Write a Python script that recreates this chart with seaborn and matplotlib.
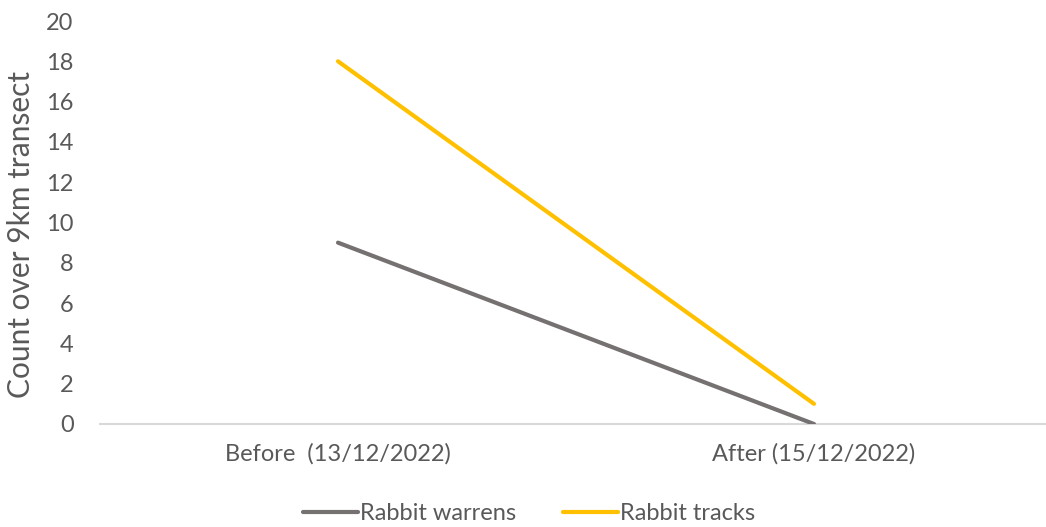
import matplotlib
matplotlib.use("Agg")
import matplotlib.pyplot as plt
import seaborn as sns
import pandas as pd

periods = ["Before  (13/12/2022)", "After (15/12/2022)"]
warrens = [9, 0]
tracks = [18, 1]
series_names = ["Rabbit warrens", "Rabbit tracks"]
palette = ["#767171", "#FFC000"]

sns.set_theme(style="white")
plt.rcParams["font.family"] = ["Lato", "DejaVu Sans"]

df = pd.DataFrame({
    "period": periods * 2,
    "x": list(range(len(periods))) * 2,
    "count": warrens + tracks,
    "series": [series_names[0]] * len(periods) + [series_names[1]] * len(periods),
})

fig = plt.figure(figsize=(10.46, 5.27), dpi=100)
ax = fig.add_axes([100 / 1046, 1 - 424 / 527, 952 / 1046, (424 - 21) / 527])

sns.lineplot(data=df, x="x", y="count", hue="series", palette=palette,
             linewidth=3.0, ax=ax, legend=False)
for line in ax.lines:
    line.set_solid_capstyle("round")

ax.set_xlim(-0.5, 1.5)
ax.set_ylim(0, 20)
ax.set_yticks(range(0, 21, 2))
ax.set_xticks(range(len(periods)))
ax.set_xticklabels(periods)
ax.tick_params(axis="both", colors="#595959", labelsize=17, length=0)
ax.tick_params(axis="y", pad=19)
ax.tick_params(axis="x", pad=14)
ax.set_xlabel("")
ax.set_ylabel("Count over 9km transect", fontsize=21.5, color="#595959")
ax.yaxis.set_label_coords(-0.068, 0.47)

for side in ["top", "right", "left"]:
    ax.spines[side].set_visible(False)
ax.spines["bottom"].set_color("#D9D9D9")
ax.spines["bottom"].set_linewidth(1.5)
ax.spines["bottom"].set_zorder(0)

handles = [plt.Line2D([0], [0], color=c, linewidth=3.0, solid_capstyle="round") for c in palette]
fig.legend(handles, series_names, loc="center", bbox_to_anchor=(0.506, 1 - 514 / 527),
           ncol=2, frameon=False, fontsize=17, labelcolor="#595959",
           handlelength=2.3, handletextpad=0.1, columnspacing=2.0)

fig.savefig("out.png", dpi=100)
